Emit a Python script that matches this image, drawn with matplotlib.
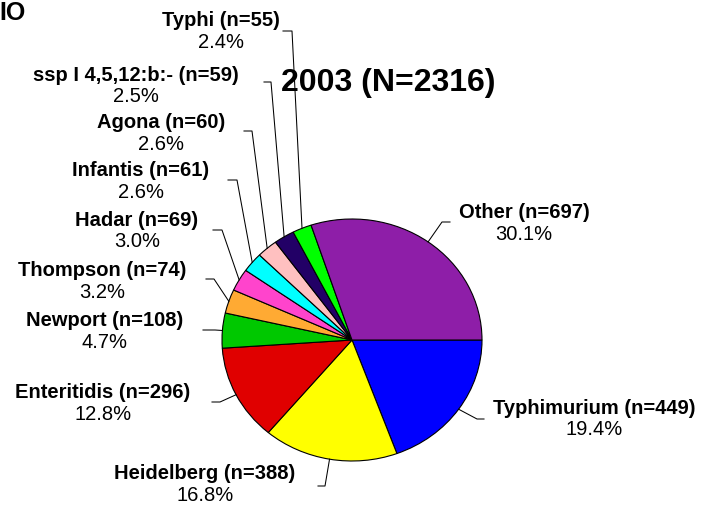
import numpy as np
import matplotlib.pyplot as plt

plt.rcParams['font.family'] = ['Liberation Sans', 'DejaVu Sans']

# data, clockwise from 3 o'clock
names = ['Typhimurium', 'Heidelberg', 'Enteritidis', 'Newport', 'Thompson',
         'Hadar', 'Infantis', 'Agona', 'ssp I 4,5,12:b:-', 'Typhi', 'Other']
counts = [449, 388, 296, 108, 74, 69, 61, 60, 59, 55, 697]
pcts = ['19.4%', '16.8%', '12.8%', '4.7%', '3.2%', '3.0%', '2.6%', '2.6%',
        '2.5%', '2.4%', '30.1%']
colors = ['#0000FF', '#FFFF00', '#E00000', '#00C800', '#FFAA33', '#FF44CC',
          '#00FFFF', '#FFC0C0', '#220066', '#00FF00', '#8E1EA8']
title = '2003 (N=2316)'

# layout in pixels: label centre x, name y, elbow (x, y), end x
lab_x = [594, 205, 103, 105, 102, 137, 141, 161, 136, 221, 524]
lab_y = [408, 474, 393, 320, 270, 220, 170, 123, 75, 20, 213]
elbow = [(477, 420), (325, 487), (220, 403), (215, 331), (214, 280), (222, 231),
         (237, 181), (252, 132), (271, 83), (292, 32), (442, 223)]
end_x = [484, 318, 212, 203, 206, 213, 228, 244, 264, 283, 450]

W, H = 714, 506
cx, cy, rx, ry = 352, 341, 130, 121


def X(px):
    return (px - cx) / rx


def Y(py):
    return (cy - py) / ry


fig = plt.figure(figsize=(W / 100, H / 100), dpi=100)
ax = fig.add_axes([0, 0, 1, 1])
wedges, _ = ax.pie(counts, colors=colors, startangle=0, counterclock=False,
                   frame=True, wedgeprops=dict(edgecolor='black', linewidth=0.8))
ax.set_aspect('auto')
ax.set_xlim(X(0), X(W))
ax.set_ylim(Y(H), Y(0))
ax.axis('off')

for i, w in enumerate(wedges):
    mid = np.deg2rad((w.theta1 + w.theta2) / 2)
    sx, sy = np.cos(mid), np.sin(mid)
    ex, ey = elbow[i]
    ax.plot([sx, X(ex), X(end_x[i])], [sy, Y(ey), Y(ey)], color='black', lw=0.75)
    ax.text(X(lab_x[i]), Y(lab_y[i]), f'{names[i]} (n={counts[i]})', ha='center',
            va='center', fontsize=14.5, fontweight='bold')
    ax.text(X(lab_x[i]), Y(lab_y[i] + 22), pcts[i], ha='center', va='center',
            fontsize=14.5)

ax.text(X(388), Y(83), title, ha='center', va='center', fontsize=23,
        fontweight='bold')
ax.text(X(-1), Y(13), 'IO', ha='left', va='center', fontsize=18,
        fontweight='bold')

fig.savefig('out.png', dpi=100)
